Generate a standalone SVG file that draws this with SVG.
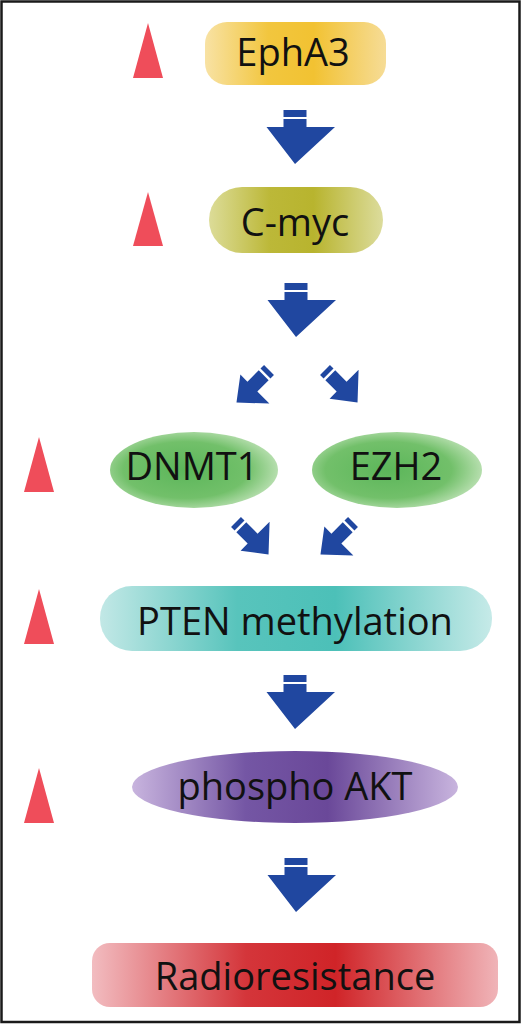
<svg xmlns="http://www.w3.org/2000/svg" width="521" height="1024" viewBox="0 0 521 1024">
<style>
.lbl{font-family:"Open Sans","Noto Sans","DejaVu Sans",sans-serif;font-size:38px;fill:#111;text-anchor:middle}
.tri{fill:#ef4d5a}
.arr{fill:#2047a0}
</style>
<defs>
<linearGradient id="gY" x1="0" x2="1" y1="0" y2="0"><stop offset="0" stop-color="#f8e2a4"/><stop offset="0.35" stop-color="#f2c63e"/><stop offset="0.6" stop-color="#f2c232"/><stop offset="1" stop-color="#f6dc96"/></linearGradient>
<linearGradient id="gO" x1="0" x2="1" y1="0" y2="0"><stop offset="0" stop-color="#dcdc98"/><stop offset="0.35" stop-color="#bcb838"/><stop offset="0.6" stop-color="#b8b42e"/><stop offset="1" stop-color="#dcdc9c"/></linearGradient>
<radialGradient id="gG" cx="0.45" cy="0.5" r="0.62"><stop offset="0" stop-color="#5cb65a"/><stop offset="0.6" stop-color="#72c06a"/><stop offset="1" stop-color="#d0eac8"/></radialGradient>
<linearGradient id="gT" x1="0" x2="1" y1="0" y2="0"><stop offset="0" stop-color="#c2e8e6"/><stop offset="0.35" stop-color="#58c4bc"/><stop offset="0.6" stop-color="#4cc0b8"/><stop offset="1" stop-color="#c6eae8"/></linearGradient>
<linearGradient id="gP" x1="0" x2="1" y1="0" y2="0"><stop offset="0" stop-color="#c8b4de"/><stop offset="0.35" stop-color="#7456a4"/><stop offset="0.6" stop-color="#6a4899"/><stop offset="1" stop-color="#c8b4de"/></linearGradient>
<linearGradient id="gR" x1="0" x2="1" y1="0" y2="0"><stop offset="0" stop-color="#f2bcc0"/><stop offset="0.38" stop-color="#d4353a"/><stop offset="0.6" stop-color="#d02428"/><stop offset="1" stop-color="#f0b4b8"/></linearGradient>
<g id="down" class="arr"><path d="M-11.5,0h23v7h-23z"/><path d="M-11.5,9h23v8h28.5L0,54L-28.5,17h17z"/></g>
<g id="small" class="arr"><path d="M-7,0h14v5h-14z"/><path d="M-7,7.5h14v16h17L0,46L-17,23.5h10z"/></g>
</defs>
<rect x="1.5" y="1.5" width="518" height="1020.5" fill="#fff" stroke="#1a1a1a" stroke-width="2.5"/>
<g id="markers">
<polygon class="tri" points="148,23 133,78 163,78"/>
<polygon class="tri" points="148,192 133,246 163,246"/>
<polygon class="tri" points="39,437 24,492 54,492"/>
<polygon class="tri" points="39,589 24,644 54,644"/>
<polygon class="tri" points="39,768 24,823 54,823"/>
</g>
<g id="connectors">
<use href="#down" x="295" y="110"/>
<use href="#down" x="296" y="283"/>
<use href="#small" transform="translate(269,370) rotate(45)"/>
<use href="#small" transform="translate(325,370) rotate(-45)"/>
<use href="#small" transform="translate(236,522) rotate(-45)"/>
<use href="#small" transform="translate(353,522) rotate(45)"/>
<use href="#down" x="295" y="675"/>
<use href="#down" x="296" y="858"/>
</g>
<g id="EphA3"><rect x="205" y="22" width="181" height="63" rx="22" fill="url(#gY)"/><text class="lbl" x="293" y="66">EphA3</text></g>
<g id="Cmyc"><rect x="209" y="187" width="174" height="66" rx="33" fill="url(#gO)"/><text class="lbl" x="295" y="236">C-myc</text></g>
<g id="DNMT1"><ellipse cx="194" cy="470" rx="84" ry="38" fill="url(#gG)"/><text class="lbl" x="192" y="480">DNMT1</text></g>
<g id="EZH2"><ellipse cx="397" cy="470" rx="85" ry="38" fill="url(#gG)"/><text class="lbl" x="396" y="480">EZH2</text></g>
<g id="PTEN"><rect x="100" y="586" width="392" height="65" rx="32" fill="url(#gT)"/><text class="lbl" x="295" y="635">PTEN methylation</text></g>
<g id="AKT"><ellipse cx="295" cy="787" rx="163" ry="36" fill="url(#gP)"/><text class="lbl" x="295" y="800">phospho AKT</text></g>
<g id="Radio"><rect x="92" y="943" width="406" height="64" rx="18" fill="url(#gR)"/><text class="lbl" x="295" y="990">Radioresistance</text></g>
</svg>
